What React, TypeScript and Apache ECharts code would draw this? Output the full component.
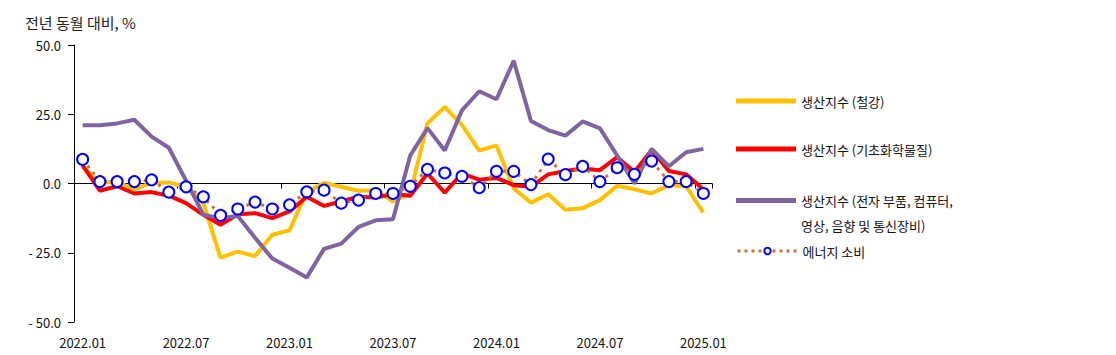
import React, { useEffect, useRef } from "react";
import * as echarts from "echarts";

const categories = [
  "2022.01","2022.02","2022.03","2022.04","2022.05","2022.06","2022.07","2022.08","2022.09","2022.10","2022.11","2022.12",
  "2023.01","2023.02","2023.03","2023.04","2023.05","2023.06","2023.07","2023.08","2023.09","2023.10","2023.11","2023.12",
  "2024.01","2024.02","2024.03","2024.04","2024.05","2024.06","2024.07","2024.08","2024.09","2024.10","2024.11","2024.12",
  "2025.01",
];

const steel = [
  6.0, 0.5, 0.5, -2.1, 0.2, 0.4, -1.2, -7.0, -26.8, -24.6, -26.2, -18.5,
  -16.9, -3.0, 0.2, -1.2, -2.6, -2.4, -6.5, -3.6, 21.7, 27.6, 21.2, 11.9,
  13.7, -1.8, -6.9, -3.9, -9.5, -8.9, -6.0, -0.8, -2.1, -3.6, -0.6, -1.0,
  -10.5,
];

const chemical = [
  6.5, -2.6, -1.0, -3.6, -3.1, -4.4, -7.1, -11.3, -14.9, -11.1, -10.7, -12.5,
  -10.1, -4.8, -8.1, -6.5, -4.8, -5.1, -3.8, -4.4, 3.6, -3.3, 3.6, 1.4,
  2.0, -0.6, -1.2, 3.3, 4.5, 5.4, 4.8, 9.5, 4.2, 12.1, 4.5, 3.3,
  -2.1,
];

const electronics = [
  21.0, 21.0, 21.7, 23.0, 16.9, 12.9, 1.0, -11.3, -12.5, -11.7, -19.6, -27.1,
  -30.4, -33.9, -23.6, -21.7, -15.7, -13.3, -12.9, 10.1, 20.0, 11.9, 26.4, 33.3,
  30.4, 44.3, 22.6, 19.3, 17.3, 22.4, 19.9, 10.1, 0.0, 12.5, 6.2, 11.3,
  12.5,
];

const energy = [
  8.7, 0.7, 0.7, 0.7, 1.3, -3.1, -1.2, -4.8, -11.5, -9.2, -6.7, -9.2,
  -7.7, -3.0, -2.4, -7.1, -6.0, -3.6, -3.6, -1.0, 5.1, 3.8, 2.6, -1.5,
  4.4, 4.4, -0.4, 8.8, 3.2, 6.2, 0.7, 5.7, 3.3, 8.1, 0.7, 0.7,
  -3.6,
];

const seriesNames = [
  "생산지수 (철강)",
  "생산지수 (기초화학물질)",
  "생산지수 (전자 부품, 컴퓨터, 영상, 음향 및 통신장비)",
  "에너지 소비",
];

const FONT = "'Noto Sans CJK KR', 'Noto Sans', sans-serif";

export default function App() {
  const ref = useRef<HTMLDivElement>(null);

  useEffect(() => {
    document.body.style.margin = "0";
    if (!ref.current) return;
    const chart = echarts.init(ref.current, undefined, { renderer: "svg" });

    const legendBase = {
      orient: "vertical" as const,
      left: 731,
      itemWidth: 60,
      itemHeight: 5,
      itemGap: 0,
      textStyle: { fontSize: 13, color: "#111", fontFamily: FONT, lineHeight: 18 },
    };

    chart.setOption({
      animation: false,
      backgroundColor: "#fff",
      textStyle: { fontFamily: FONT },
      title: {
        text: "전년 동월 대비, %",
        left: 20,
        top: 10,
        textStyle: { fontSize: 15, fontWeight: "normal", color: "#222", fontFamily: FONT },
      },
      legend: [
        { ...legendBase, top: 87, data: [{ name: seriesNames[0], icon: "rect" }] },
        { ...legendBase, top: 135, data: [{ name: seriesNames[1], icon: "rect" }] },
        {
          ...legendBase,
          top: 158,
          data: [{ name: seriesNames[2], icon: "rect" }],
          formatter: () => " \n생산지수 (전자 부품, 컴퓨터,\n영상, 음향 및 통신장비)",
          textStyle: { ...legendBase.textStyle, lineHeight: 25 },
        },
        {
          ...legendBase,
          top: 237,
          itemHeight: 8,
          data: [seriesNames[3]],
          lineStyle: { width: 3, color: "#C5753A", type: [3, 4] },
        },
      ],
      grid: { left: 74, right: 404, top: 45, bottom: 33 },
      xAxis: [
        {
          type: "category",
          data: categories,
          boundaryGap: true,
          position: "bottom",
          axisLine: { show: false, onZero: false },
          axisTick: { show: false },
          axisLabel: {
            interval: 5,
            fontSize: 13,
            color: "#111",
            margin: 14,
            fontFamily: FONT,
          },
        },
        {
          type: "category",
          data: categories,
          boundaryGap: true,
          position: "bottom",
          axisLine: { show: true, onZero: true, lineStyle: { color: "#000", width: 1 } },
          axisTick: { show: true, interval: 5, length: 5, lineStyle: { color: "#000" } },
          axisLabel: { show: false },
        },
      ],
      yAxis: {
        type: "value",
        min: -50,
        max: 50,
        interval: 25,
        splitLine: { show: false },
        axisLine: { show: true, lineStyle: { color: "#000", width: 1 } },
        axisTick: { show: true, length: 6, lineStyle: { color: "#000" } },
        axisLabel: {
          fontSize: 13,
          color: "#111",
          margin: 13,
          fontFamily: FONT,
          formatter: (v: number) => (v < 0 ? "- " + Math.abs(v).toFixed(1) : v.toFixed(1)),
        },
      },
      series: [
        {
          name: seriesNames[0],
          type: "line",
          data: steel,
          showSymbol: false,
          symbol: "none",
          lineStyle: { color: "#FFC000", width: 4 },
          itemStyle: { color: "#FFC000" },
          z: 2,
        },
        {
          name: seriesNames[1],
          type: "line",
          data: chemical,
          showSymbol: false,
          symbol: "none",
          lineStyle: { color: "#FF0000", width: 4 },
          itemStyle: { color: "#FF0000" },
          z: 3,
        },
        {
          name: seriesNames[2],
          type: "line",
          data: electronics,
          showSymbol: false,
          symbol: "none",
          lineStyle: { color: "#8064A2", width: 4 },
          itemStyle: { color: "#8064A2" },
          z: 4,
        },
        {
          name: seriesNames[3],
          type: "line",
          data: energy,
          symbol: "circle",
          symbolSize: 11,
          showSymbol: true,
          lineStyle: { color: "#C5753A", width: 3, type: [3, 5] },
          itemStyle: { color: "#FFFFFF", borderColor: "#0000FF", borderWidth: 2 },
          z: 5,
        },
      ],
    });

    return () => chart.dispose();
  }, []);

  return <div ref={ref} style={{ width: 1116, height: 355 }} />;
}
